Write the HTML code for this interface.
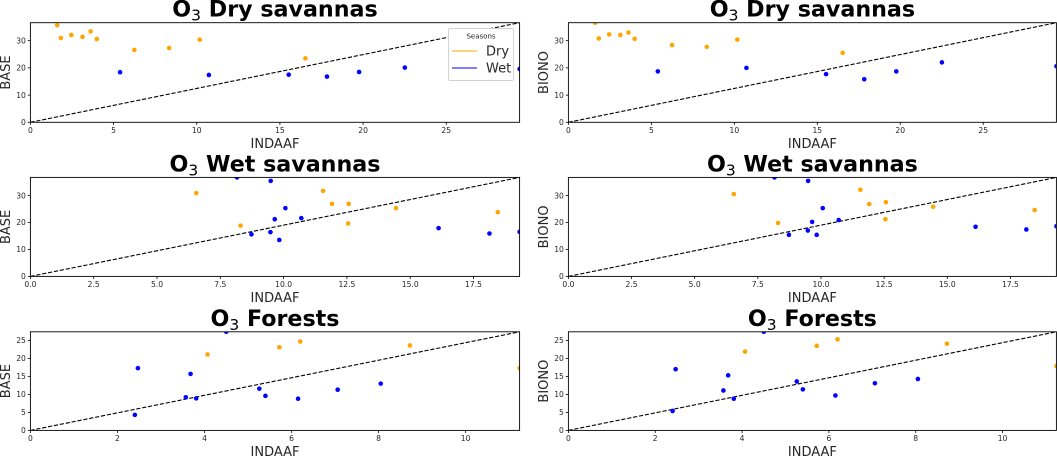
<!DOCTYPE html>
<html lang="en">
<head>
<meta charset="utf-8">
<title>O3 scatter comparison</title>
<style>
html,body{margin:0;padding:0;background:#fff;width:1057px;height:456px;overflow:hidden}
svg{display:block;font-family:"DejaVu Sans","Liberation Sans",sans-serif;filter:blur(0.3px)}
</style>
</head>
<body>
<svg id="fig" xmlns="http://www.w3.org/2000/svg" width="1057" height="456" viewBox="0 0 1057 456"></svg>
<script>
const panelTitles = ['Dry savannas','Dry savannas','Wet savannas','Wet savannas','Forests','Forests'];
const yAxisNames = ['BASE','BIONO','BASE','BIONO','BASE','BIONO'];
const xAxisName = 'INDAAF';
const seasonNames = ['Dry','Wet'];
const xLimits = [29.41,29.41,19.32,19.32,11.24,11.24];
const yLimits = [36.6,36.6,36.7,36.7,27.4,27.4];
const xTickValues = [
  ['0','5','10','15','20','25'],['0','5','10','15','20','25'],
  ['0.0','2.5','5.0','7.5','10.0','12.5','15.0','17.5'],['0.0','2.5','5.0','7.5','10.0','12.5','15.0','17.5'],
  ['0','2','4','6','8','10'],['0','2','4','6','8','10']
];
const yTickValues = [
  ['0','10','20','30'],['0','10','20','30'],
  ['0','10','20','30'],['0','10','20','30'],
  ['0','5','10','15','20','25'],['0','5','10','15','20','25']
];

const drySavDryX = [1.61,1.83,2.46,3.13,3.62,3.99,6.25,8.34,10.18,16.53];
const drySavWetX = [5.39,10.73,15.53,17.83,19.76,22.51,29.41];
const drySavDryBase = [35.7,31.0,32.1,31.4,33.4,30.6,26.6,27.3,30.4,23.5];
const drySavWetBase = [18.4,17.4,17.5,16.8,18.5,20.1,19.6];
const drySavDryBiono = [36.6,30.8,32.3,32.1,33.0,30.7,28.4,27.7,30.4,25.5];
const drySavWetBiono = [18.7,20.0,17.7,15.8,18.7,22.0,20.6];

const wetSavDryX = [6.55,8.30,11.56,11.91,12.57,12.55,14.44,18.46];
const wetSavWetX = [8.16,9.49,10.07,9.65,10.70,9.48,8.73,9.83,16.12,18.13,19.32];
const wetSavDryBase = [30.9,18.8,31.7,26.9,26.9,19.6,25.3,23.8];
const wetSavWetBase = [36.7,35.4,25.3,21.2,21.6,16.4,15.6,13.5,17.9,15.9,16.5];
const wetSavDryBiono = [30.5,19.8,32.1,26.8,27.5,21.2,25.8,24.6];
const wetSavWetBiono = [36.7,35.4,25.3,20.2,20.9,17.0,15.4,15.4,18.4,17.4,18.6];

const forestDryX = [4.07,5.72,6.20,8.72,11.24];
const forestWetX = [2.40,2.47,3.57,3.68,3.81,4.50,5.26,5.40,6.15,7.06,8.05];
const forestDryBase = [21.1,23.1,24.7,23.6,17.3];
const forestWetBase = [4.3,17.3,9.2,15.7,8.9,27.4,11.6,9.6,8.8,11.3,13.0];
const forestDryBiono = [21.9,23.5,25.3,24.1,17.9];
const forestWetBiono = [5.4,17.0,11.1,15.3,8.8,27.4,13.6,11.4,9.7,13.1,14.3];

const dryXSets = [drySavDryX,drySavDryX,wetSavDryX,wetSavDryX,forestDryX,forestDryX];
const wetXSets = [drySavWetX,drySavWetX,wetSavWetX,wetSavWetX,forestWetX,forestWetX];
const dryYSets = [drySavDryBase,drySavDryBiono,wetSavDryBase,wetSavDryBiono,forestDryBase,forestDryBiono];
const wetYSets = [drySavWetBase,drySavWetBiono,wetSavWetBase,wetSavWetBiono,forestWetBase,forestWetBiono];

const NS = 'http://www.w3.org/2000/svg';
const fig = document.getElementById('fig');
const colLeft = [30.4, 568.4];
const colRight = [519.6, 1056.4];
const rowTop = [22.7, 177.4, 331.8];
const rowBottom = [122.3, 276.4, 430.4];
const textColor = '#262626';

function make(parent, tag, attrs, text) {
  const el = document.createElementNS(NS, tag);
  for (const k in attrs) el.setAttribute(k, attrs[k]);
  if (text !== undefined) el.textContent = text;
  parent.appendChild(el);
  return el;
}

const defs = make(fig, 'defs', {});

for (let i = 0; i < 6; i++) {
  const col = i % 2, row = Math.floor(i / 2);
  const L = colLeft[col], R = colRight[col], T = rowTop[row], B = rowBottom[row];
  const sx = v => L + (v / xLimits[i]) * (R - L);
  const sy = v => B - (v / yLimits[i]) * (B - T);
  const cx = (L + R) / 2;

  const g = make(fig, 'g', {});
  
  

  const clip = make(defs, 'clipPath', {id: 'clip' + i});
  make(clip, 'rect', {x: L, y: T, width: R - L, height: B - T});

  const title = make(g, 'text', {x: cx, y: T - 6, 'text-anchor': 'middle', 'font-size': 22.2, 'font-weight': 'bold', fill: '#000'});
  
  
  make(title, 'tspan', {}, 'O');
  make(title, 'tspan', {dy: 4, 'font-size': 15.5, 'font-weight': 'normal'}, '3');
  make(title, 'tspan', {dy: -4}, ' ' + panelTitles[i]);

  const marks = make(g, 'g', {'clip-path': 'url(#clip' + i + ')'});
  
  

  const ref = make(marks, 'line', {
    x1: sx(0), y1: sy(0), x2: sx(xLimits[i]), y2: sy(yLimits[i]),
    stroke: '#000', 'stroke-width': 1.1, 'stroke-dasharray': '4.2 1.8'
  });
  
  

  dryXSets[i].forEach((x, k) => {
    const dot = make(marks, 'circle', {cx: sx(x), cy: sy(dryYSets[i][k]), r: 2.3, fill: '#ffa500'});
    
    
  });
  wetXSets[i].forEach((x, k) => {
    const dot = make(marks, 'circle', {cx: sx(x), cy: sy(wetYSets[i][k]), r: 2.3, fill: '#0000ff'});
    
    
  });

  const frame = make(g, 'rect', {x: L, y: T, width: R - L, height: B - T, fill: 'none', stroke: '#000', 'stroke-width': 0.9});
  
  

  xTickValues[i].forEach(t => {
    const px = sx(parseFloat(t));
    make(g, 'line', {x1: px, x2: px, y1: B, y2: B + 2.6, stroke: '#000', 'stroke-width': 0.8});
    const lab = make(g, 'text', {x: px, y: B + 10.5, 'text-anchor': 'middle', 'font-size': 7.6, fill: textColor}, t);
    
    
  });
  yTickValues[i].forEach(t => {
    const py = sy(parseFloat(t));
    make(g, 'line', {x1: L - 2.6, x2: L, y1: py, y2: py, stroke: '#000', 'stroke-width': 0.8});
    const lab = make(g, 'text', {x: L - 4.5, y: py + 2.8, 'text-anchor': 'end', 'font-size': 7.6, fill: textColor}, t);
    
    
  });

  const xl = make(g, 'text', {x: cx, y: B + 25.5, 'text-anchor': 'middle', 'font-size': 13, fill: textColor}, xAxisName);
  
  

  const yx = L - 20.5, yy = (T + B) / 2;
  const yl = make(g, 'text', {x: yx, y: yy, 'text-anchor': 'middle', 'font-size': 13, fill: textColor, transform: 'rotate(-90 ' + yx + ' ' + yy + ')'}, yAxisNames[i]);
  
  
}

const legend = make(fig, 'g', {});


make(legend, 'rect', {x: 448.5, y: 28.5, width: 65, height: 52, rx: 1.5, fill: '#fff', stroke: '#d0d0d0', 'stroke-width': 0.9});
make(legend, 'text', {x: 481, y: 38.5, 'text-anchor': 'middle', 'font-size': 7, fill: textColor}, 'Seasons');
const legendColors = ['#ffa500', '#0000ff'];
seasonNames.forEach((name, k) => {
  const y = 51 + k * 17;
  const swatch = make(legend, 'line', {x1: 452, x2: 477, y1: y, y2: y, stroke: legendColors[k], 'stroke-width': 1.1});
  
  
  const lab = make(legend, 'text', {x: 486, y: y + 4.5, 'font-size': 13, fill: textColor}, name);
  
  
});
</script>
</body>
</html>
